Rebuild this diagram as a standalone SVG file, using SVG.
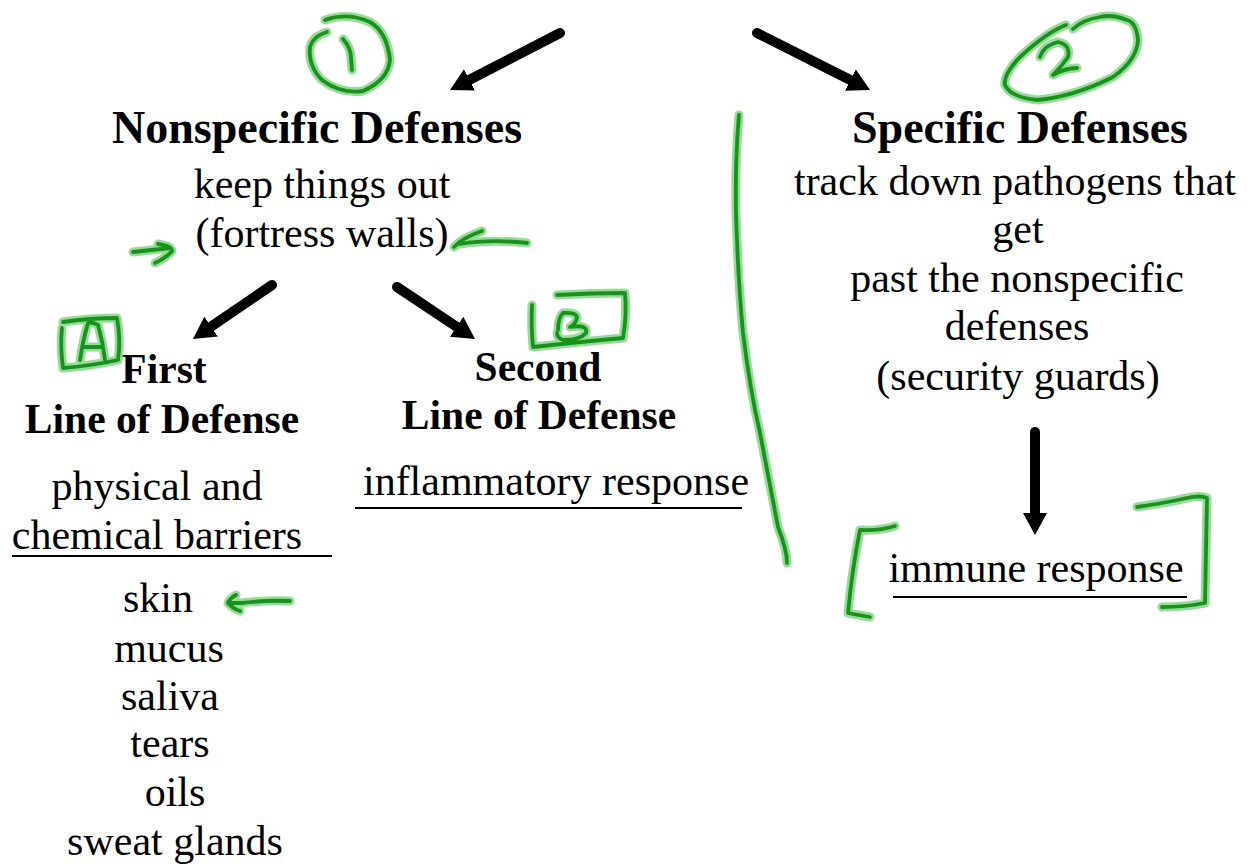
<svg xmlns="http://www.w3.org/2000/svg" xmlns:xlink="http://www.w3.org/1999/xlink" width="1253" height="867" viewBox="0 0 1253 867">
<style>
text{font-family:"Liberation Serif","Times New Roman",serif;fill:#000;text-anchor:middle}
.h1{font-size:46px;font-weight:bold}
.h2{font-size:41.5px;font-weight:bold}
.t{font-size:42px}
.ul{stroke:#000;stroke-width:2;fill:none}
.arr{stroke:#000;stroke-width:10;stroke-linecap:round;fill:none;marker-end:url(#head)}
.glow{fill:none;stroke:#86d486;stroke-width:9;stroke-linecap:round;stroke-linejoin:round;opacity:0.85}
.ink{fill:none;stroke:#15941a;stroke-width:3.8;stroke-linecap:round;stroke-linejoin:round}
</style>
<defs>
<marker id="head" viewBox="0 0 22 24" refX="1" refY="12" markerWidth="22" markerHeight="24" markerUnits="userSpaceOnUse" orient="auto">
<path d="M0,0 L22,12 L0,24 Z" fill="#000"/>
</marker>
<path id="p1" d="M325,20 Q347,12 370,22 Q387,32 390,60 Q388,80 363,91 Q340,94 322,80 Q308,66 310,47 Q313,36 327,32 M343,39 Q351,48 351,58 L352,70"/>
<path id="p2" d="M1066,25 Q1047,32 1020,57 Q1003,75 1005,85 Q1010,97 1037,100 Q1073,97 1113,77 Q1137,60 1138,40 Q1136,22 1127,20 Q1112,14 1100,17 Q1082,20 1073,29 M1040,57 Q1044,45 1058,42 Q1071,45 1068,57 Q1062,66 1053,75 Q1065,68 1077,68"/>
<path id="p3" d="M133,252 Q152,250 170,248 M158,244 Q172,246 172,251 Q166,258 155,263"/>
<path id="p4" d="M482,231 Q462,238 454,247 M460,244 Q490,239 527,243"/>
<path id="p5" d="M63,322 Q90,318 117,318 Q121,340 118,360 Q90,366 63,368 Q60,345 62,328 M80,360 Q83,340 88,323 Q94,322 98,325 Q103,342 105,360 M83,347 L103,347"/>
<path id="p6" d="M532,305 Q531,325 533,347 Q578,342 623,338 Q627,315 625,293 Q590,293 557,295 M558,330 Q558,318 563,313 Q577,312 577,318 Q575,325 570,327 Q588,324 586,333 Q580,340 563,340 Q557,338 557,333"/>
<path id="p7" d="M739,115 Q735,160 736,213 Q738,280 743,333 Q750,390 760,433 Q771,490 778,527 Q787,550 787,563"/>
<path id="p8" d="M290,601 Q265,600 242,603 L228,603 M236,595 Q230,598 228,603 Q232,608 240,611"/>
<path id="p9" d="M895,526 Q880,531 860,530 Q852,570 848,613 Q858,615 870,617"/>
<path id="p10" d="M1137,507 Q1165,503 1187,498 Q1200,495 1207,498 Q1206,550 1205,603 Q1185,607 1162,607"/>
</defs>
<rect width="1253" height="867" fill="#fff"/>

<g id="connectors">
<line class="arr" x1="560" y1="33" x2="468.6" y2="80.3"/>
<line class="arr" x1="757" y1="33" x2="851.3" y2="80.5"/>
<line class="arr" x1="272" y1="285" x2="210.3" y2="327.2"/>
<line class="arr" x1="397" y1="287" x2="457.5" y2="327.3"/>
<line class="arr" x1="1035" y1="432" x2="1035" y2="514"/>
</g>

<g id="nonspecific">
<text class="h1" x="317" y="143">Nonspecific Defenses</text>
<text class="t" x="322" y="198">keep things out</text>
<text class="t" x="322" y="247">(fortress walls)</text>
</g>

<g id="first-line">
<text class="h2" x="164" y="383">First</text>
<text class="h2" x="162" y="433">Line of Defense</text>
<text class="t" x="157" y="500">physical and</text>
<text class="t" x="157" y="549">chemical barriers</text>
<line class="ul" x1="12" y1="556" x2="332" y2="556"/>
</g>

<g id="barriers-list">
<text class="t" x="158" y="612">skin</text>
<text class="t" x="169" y="662">mucus</text>
<text class="t" x="170" y="710">saliva</text>
<text class="t" x="170" y="757">tears</text>
<text class="t" x="175" y="806">oils</text>
<text class="t" x="175" y="855">sweat glands</text>
</g>

<g id="second-line">
<text class="h2" x="538" y="381">Second</text>
<text class="h2" x="539" y="429">Line of Defense</text>
<text class="t" x="556" y="495">inflammatory response</text>
<line class="ul" x1="355" y1="508" x2="742" y2="508"/>
</g>

<g id="specific">
<text class="h1" x="1020" y="143">Specific Defenses</text>
<text class="t" x="1015" y="195">track down pathogens that</text>
<text class="t" x="1018" y="243">get</text>
<text class="t" x="1017" y="292">past the nonspecific</text>
<text class="t" x="1017" y="340">defenses</text>
<text class="t" x="1018" y="390">(security guards)</text>
</g>

<g id="immune">
<text class="t" x="1036" y="582">immune response</text>
<line class="ul" x1="893" y1="597" x2="1187" y2="597"/>
</g>

<g id="annotations">
<use xlink:href="#p1" class="glow"/><use xlink:href="#p1" class="ink"/>
<use xlink:href="#p2" class="glow"/><use xlink:href="#p2" class="ink"/>
<use xlink:href="#p3" class="glow"/><use xlink:href="#p3" class="ink"/>
<use xlink:href="#p4" class="glow"/><use xlink:href="#p4" class="ink"/>
<use xlink:href="#p5" class="glow"/><use xlink:href="#p5" class="ink"/>
<use xlink:href="#p6" class="glow"/><use xlink:href="#p6" class="ink"/>
<use xlink:href="#p7" class="glow"/><use xlink:href="#p7" class="ink"/>
<use xlink:href="#p8" class="glow"/><use xlink:href="#p8" class="ink"/>
<use xlink:href="#p9" class="glow"/><use xlink:href="#p9" class="ink"/>
<use xlink:href="#p10" class="glow"/><use xlink:href="#p10" class="ink"/>
</g>
</svg>
